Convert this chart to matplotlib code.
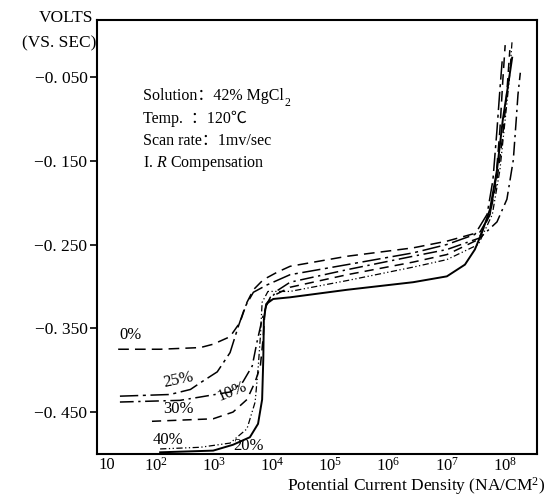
import numpy as np
import matplotlib
matplotlib.use("Agg")
import matplotlib.pyplot as plt
import matplotlib.transforms as mtransforms

plt.rcParams['font.family'] = ['Liberation Serif', 'Noto Sans CJK SC', 'DejaVu Serif']
plt.rcParams['mathtext.fontset'] = 'custom'
plt.rcParams['mathtext.rm'] = 'Liberation Serif'
plt.rcParams['mathtext.it'] = 'Liberation Serif:italic'

# log10 of current density (NA/cm2) and potential (V vs SCE)
logj_0 = [1.36, 2.08, 2.77, 2.99, 3.28, 3.45, 3.57, 3.68, 3.85, 4.09, 4.31, 5.29, 6.42, 7.00, 7.57, 7.74, 7.84, 7.91, 7.96, 8.00]
v_0 = [-0.375, -0.375, -0.373, -0.369, -0.360, -0.343, -0.319, -0.304, -0.292, -0.283, -0.276, -0.264, -0.254, -0.246, -0.235, -0.214, -0.173, -0.113, -0.054, -0.012]

logj_25 = [1.39, 2.25, 2.60, 2.77, 3.06, 3.28, 3.42, 3.54, 3.68, 3.92, 4.31, 5.29, 6.42, 7.00, 7.48, 7.69, 7.79, 7.86, 7.91, 7.95]
v_25 = [-0.431, -0.429, -0.423, -0.415, -0.402, -0.379, -0.348, -0.324, -0.307, -0.298, -0.286, -0.274, -0.260, -0.250, -0.238, -0.214, -0.173, -0.113, -0.065, -0.030]

logj_10 = [1.39, 2.42, 2.77, 3.28, 3.50, 3.66, 3.74, 3.83, 3.92, 4.09, 4.31, 5.29, 6.42, 7.00, 7.57, 7.86, 8.03, 8.14, 8.19, 8.22, 8.26]
v_10 = [-0.438, -0.436, -0.432, -0.426, -0.414, -0.395, -0.367, -0.339, -0.319, -0.305, -0.295, -0.280, -0.264, -0.256, -0.242, -0.223, -0.196, -0.149, -0.101, -0.071, -0.045]

logj_30 = [1.94, 2.99, 3.33, 3.57, 3.71, 3.80, 3.85, 3.88, 3.97, 4.31, 5.29, 6.42, 7.00, 7.54, 7.74, 7.86, 7.95, 8.02, 8.08]
v_30 = [-0.461, -0.458, -0.450, -0.435, -0.414, -0.395, -0.360, -0.327, -0.313, -0.301, -0.286, -0.271, -0.262, -0.244, -0.214, -0.173, -0.125, -0.077, -0.018]

logj_20 = [2.08, 2.77, 3.28, 3.57, 3.71, 3.76, 3.80, 3.83, 3.93, 4.31, 5.29, 6.42, 7.00, 7.54, 7.78, 7.91, 8.00, 8.07, 8.12]
v_20 = [-0.494, -0.492, -0.487, -0.470, -0.438, -0.399, -0.360, -0.319, -0.306, -0.306, -0.293, -0.277, -0.268, -0.250, -0.214, -0.161, -0.101, -0.054, -0.006]

logj_40 = [2.08, 2.99, 3.33, 3.62, 3.76, 3.83, 3.85, 3.86, 3.90, 4.02, 4.31, 5.29, 6.42, 7.00, 7.31, 7.48, 7.60, 7.74, 7.86, 7.96, 8.05, 8.12]
v_40 = [-0.498, -0.496, -0.489, -0.480, -0.464, -0.435, -0.387, -0.339, -0.321, -0.315, -0.313, -0.304, -0.295, -0.288, -0.274, -0.256, -0.236, -0.208, -0.161, -0.101, -0.060, -0.027]

series_names = ['0%', '25%', '10%', '30%', '20%', '40%']
series_logj = [logj_0, logj_25, logj_10, logj_30, logj_20, logj_40]
series_v = [v_0, v_25, v_10, v_30, v_20, v_40]
styles = [(0, (7, 4)), (0, (12, 3, 2, 3)), (0, (9, 3, 1.5, 3)), (0, (6, 4)),
          (0, (5, 2, 1, 2, 1, 2)), '-']
widths = [1.1, 1.1, 1.1, 1.1, 0.9, 1.4]

# label positions (current, volts, rotation), same order as series_names
label_j = [37, 245, 2090, 245, 3890, 166]
label_v = [-0.358, -0.411, -0.425, -0.446, -0.490, -0.483]
label_rot = [0, 12, 22, 0, 0, 0]

yticks = [-0.05, -0.15, -0.25, -0.35, -0.45]
ytick_labels = ['\u22120. 050', '\u22120. 150', '\u22120. 250', '\u22120. 350', '\u22120. 450']
xticks = [1e1, 1e2, 1e3, 1e4, 1e5, 1e6, 1e7, 1e8]
xtick_labels = ['10'] + [r'$\mathrm{10^{%d}}$' % k for k in range(2, 9)]

fig = plt.figure(figsize=(5.46, 4.98), dpi=100)
ax = fig.add_axes([0.178, 0.0884, 0.8059, 0.8715])

for lj, v, ls, lw in zip(series_logj, series_v, styles, widths):
    ax.plot(10 ** np.array(lj), v, color='black', linestyle=ls, linewidth=lw)

for name, xj, yv, rot in zip(series_names, label_j, label_v, label_rot):
    ax.text(xj, yv, name, fontsize=12, ha='center', va='center', rotation=rot)

ax.set_xscale('log')
ax.set_xlim(10, 10 ** 8.55)
ax.set_ylim(-0.50, 0.018)
ax.set_yticks(yticks)
ax.set_yticklabels(ytick_labels, fontsize=12.5)
ax.set_xticks(xticks)
ax.set_xticklabels(xtick_labels, fontsize=12)
ax.xaxis.set_minor_locator(matplotlib.ticker.NullLocator())
ax.tick_params(axis='y', direction='out', length=5, width=1.2, pad=2)
ax.tick_params(axis='x', length=0, pad=2)

# nudge the "10" label right of the spine as in the original
offset = mtransforms.ScaledTranslation(10 / 100, 0, fig.dpi_scale_trans)
lbl = ax.get_xticklabels()[0]
lbl.set_transform(lbl.get_transform() + offset)

for s in ax.spines.values():
    s.set_linewidth(1.5)

note_kw = dict(transform=ax.transAxes, fontsize=11.5, va='center')
t_sol = ax.text(0.105, 0.825, 'Solution\uff1a42% MgCl', **note_kw)
ax.annotate('2', xy=(1, 0.05), xycoords=t_sol, fontsize=8.5, va='center', ha='left')
ax.text(0.105, 0.772, 'Temp.  \uff1a120\u2103', **note_kw)
ax.text(0.105, 0.721, 'Scan rate\uff1a1mv/sec', **note_kw)
ax.text(0.105, 0.670, 'I. $R$ Compensation', **note_kw)

fig.text(93 / 546, 1 - 18 / 498, 'VOLTS', fontsize=12.5, ha='right', va='center')
fig.text(96 / 546, 1 - 43 / 498, '(VS. SEC)', fontsize=12.5, ha='right', va='center')
fig.text(545 / 546, 1 / 498, 'Potential Current Density (NA/CM$^{2}$)', fontsize=12.5,
         ha='right', va='bottom')

fig.savefig('out.png', dpi=100)
